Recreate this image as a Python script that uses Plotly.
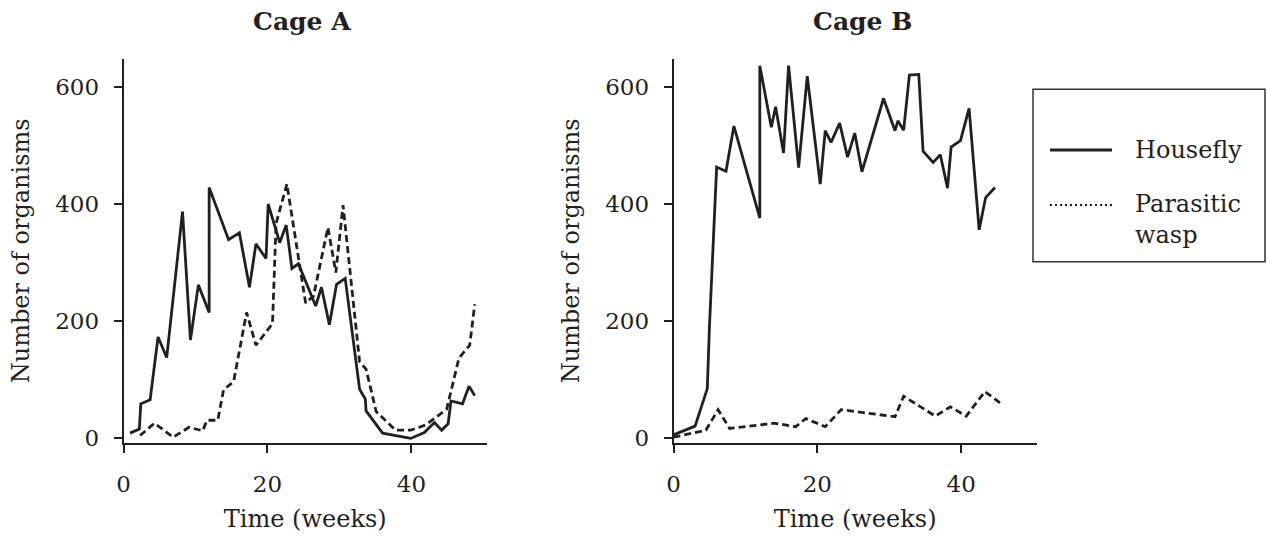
import plotly.graph_objects as go

# ---------------- data ----------------
a_fly_weeks = [0.9, 2.2, 2.4, 3.7, 4.8, 6.0, 8.2, 9.3, 10.4, 11.9, 11.9, 14.6, 16.1, 17.5,
               18.4, 19.8, 20.1, 21.7, 22.6, 23.4, 24.3, 26.7, 27.5, 28.6, 29.6, 30.8,
               32.8, 33.6, 33.7, 36.0, 39.9, 41.8, 43.2, 44.2, 45.1, 45.5, 47.1, 48.0, 48.8]
a_fly_counts = [9, 16, 59, 66, 173, 138, 387, 168, 262, 215, 428, 339, 351, 258,
                332, 307, 400, 334, 364, 290, 298, 226, 258, 194, 263, 273,
                84, 67, 47, 9, 0, 10, 27, 14, 25, 64, 59, 89, 73]

a_wasp_weeks = [2.3, 4.3, 6.9, 9.1, 11.0, 11.6, 13.1, 13.9, 15.3, 17.1, 18.4, 20.7, 21.2,
                22.7, 25.3, 26.4, 28.4, 29.5, 30.5, 32.8, 33.7, 35.1, 37.8, 39.9, 42.0,
                44.9, 46.6, 48.1, 48.8]
a_wasp_counts = [5, 26, 2, 19, 13, 31, 31, 83, 97, 215, 159, 196, 367,
                 434, 231, 243, 360, 283, 398, 131, 118, 46, 14, 14, 23,
                 50, 137, 159, 229]

b_fly_weeks = [0.0, 3.0, 4.7, 5.0, 6.0, 7.3, 8.4, 12.0, 12.0, 13.6, 14.2, 15.3, 16.0, 17.4,
               18.6, 20.4, 21.1, 21.9, 23.1, 24.2, 25.2, 26.2, 29.2, 30.8, 31.2, 32.0,
               32.8, 34.1, 34.7, 36.1, 37.1, 38.1, 38.6, 39.9, 41.1, 42.5, 43.4, 44.7]
b_fly_counts = [6, 21, 85, 191, 463, 456, 533, 376, 636, 531, 566, 487, 636, 462,
                618, 434, 525, 505, 538, 480, 521, 455, 580, 525, 542, 526,
                620, 621, 490, 471, 484, 427, 497, 508, 563, 356, 411, 428]

b_wasp_weeks = [0.0, 4.5, 6.2, 7.8, 14.0, 17.0, 18.4, 21.1, 23.3, 30.8, 32.0, 36.4, 38.5,
                40.7, 43.3, 45.7]
b_wasp_counts = [2, 14, 49, 17, 26, 20, 34, 20, 49, 37, 72, 38, 54, 38, 80, 58]

x_ticks = [0, 20, 40]
y_ticks = [0, 200, 400, 600]
panel_titles = ["Cage A", "Cage B"]
legend_labels = ["Housefly", "Parasitic<br>wasp"]

# ---------------- styling ----------------
W, H = 1267, 536
INK = "#231f20"
FONT = "DejaVu Serif"


def px_x(p):
    return p / W


def px_y(p):
    return 1 - p / H


fig = go.Figure()

panels = [
    (a_fly_weeks, a_fly_counts, a_wasp_weeks, a_wasp_counts, "x", "y"),
    (b_fly_weeks, b_fly_counts, b_wasp_weeks, b_wasp_counts, "x2", "y2"),
]
for fw, fc, ww, wc, xa, ya in panels:
    fig.add_trace(go.Scatter(x=fw, y=fc, mode="lines", name="Housefly",
                             line=dict(color=INK, width=2.8), xaxis=xa, yaxis=ya,
                             showlegend=False))
    fig.add_trace(go.Scatter(x=ww, y=wc, mode="lines", name="Parasitic wasp",
                             line=dict(color=INK, width=2.8, dash="7px,4px"),
                             xaxis=xa, yaxis=ya, showlegend=False))

x_range = [0, 50.5]
y_range = [-7.3, 647.4]
y_dom = [px_y(442.7), px_y(59)]

axis_common = dict(showline=True, linecolor=INK, linewidth=1.6, ticks="outside",
                   ticklen=8, tickwidth=1.6, tickcolor=INK, showgrid=False,
                   zeroline=False, automargin=False,
                   tickfont=dict(family=FONT, size=23, color=INK))

xa_common = dict(axis_common, range=x_range, tickvals=x_ticks, ticklabelstandoff=12,
                 title=dict(text="Time (weeks)", standoff=14,
                            font=dict(family=FONT, size=24, color=INK)))
ya_common = dict(axis_common, range=y_range, tickvals=y_ticks, ticklabelstandoff=10,
                 title=dict(text="Number of organisms", standoff=19,
                            font=dict(family=FONT, size=24, color=INK)))

fig.update_layout(
    template="none",
    width=W, height=H,
    margin=dict(l=0, r=0, t=0, b=0, pad=0),
    paper_bgcolor="white", plot_bgcolor="white",
    showlegend=False,
    xaxis=dict(xa_common, domain=[px_x(123.5), px_x(487)], anchor="y"),
    yaxis=dict(ya_common, domain=y_dom, anchor="x"),
    xaxis2=dict(xa_common, domain=[px_x(673.5), px_x(1036.7)], anchor="y2"),
    yaxis2=dict(ya_common, domain=y_dom, anchor="x2"),
)

# panel titles
for cx, txt in zip([302, 862], panel_titles):
    fig.add_annotation(x=px_x(cx), y=px_y(22), xref="paper", yref="paper",
                       text="<b>" + txt + "</b>", showarrow=False,
                       xanchor="center", yanchor="middle",
                       font=dict(family=FONT, size=25, color=INK))

# legend box (drawn by hand to match the reference's dotted key)
fig.add_shape(type="rect", xref="paper", yref="paper",
              x0=px_x(1033), x1=px_x(1265), y0=px_y(261.7), y1=px_y(89.3),
              line=dict(color="#333333", width=1.5), fillcolor="white", layer="below")
fig.add_shape(type="line", xref="paper", yref="paper",
              x0=px_x(1050), x1=px_x(1112), y0=px_y(150), y1=px_y(150),
              line=dict(color=INK, width=2.8))
fig.add_shape(type="line", xref="paper", yref="paper",
              x0=px_x(1050), x1=px_x(1113), y0=px_y(205), y1=px_y(205),
              line=dict(color=INK, width=2, dash="2px,3px"))
fig.add_annotation(x=px_x(1133), y=px_y(150), xref="paper", yref="paper",
                   text=legend_labels[0], showarrow=False, xanchor="left",
                   yanchor="middle", font=dict(family=FONT, size=24, color=INK))
fig.add_annotation(x=px_x(1133), y=px_y(220), xref="paper", yref="paper",
                   text=legend_labels[1], showarrow=False, xanchor="left",
                   yanchor="middle", align="left",
                   font=dict(family=FONT, size=24, color=INK))

# the page's default 8px body margin would shift the whole figure
fig.write_html("out.html",
               config={"displayModeBar": False},
               post_script="document.body.style.margin='0px';document.body.style.overflow='hidden';")
